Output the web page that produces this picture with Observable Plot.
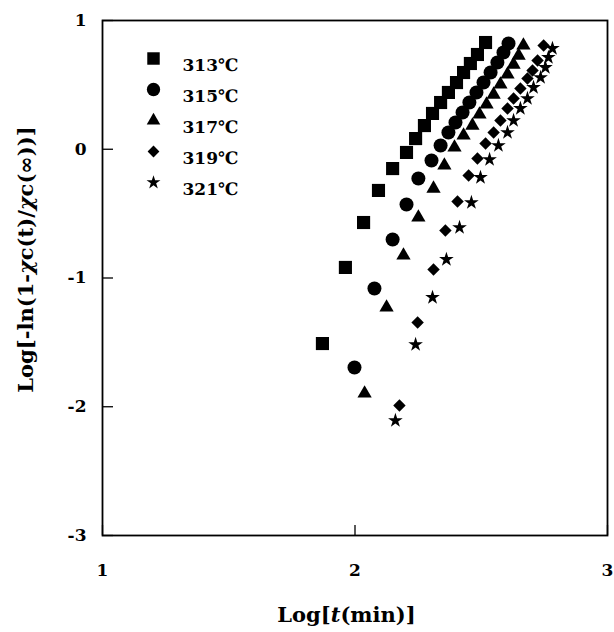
<!DOCTYPE html>
<html><head><meta charset="utf-8">
<script src="https://cdn.jsdelivr.net/npm/d3@7"></script>
<script src="https://cdn.jsdelivr.net/npm/@observablehq/plot@0.6"></script>
<style>body{margin:0;background:#fff}</style>
</head><body><div id="chart"></div>
<script>
// Series (temperature) names and their marker symbols
const seriesNames = ["313℃", "315℃", "317℃", "319℃", "321℃"];
const seriesSymbols = ["square", "circle", "triangle", "diamond2", "star"];
const seriesR = [7.4, 7, 5.3, 5.6, 4.6];

// Log[t(min)] values
const x313 = [1.871, 1.962, 2.034, 2.093, 2.149, 2.204, 2.240, 2.275, 2.307, 2.339, 2.370, 2.402, 2.430, 2.457, 2.485, 2.517];
const y313 = [-1.509, -0.918, -0.569, -0.320, -0.150, -0.025, 0.083, 0.184, 0.278, 0.363, 0.441, 0.518, 0.596, 0.666, 0.736, 0.829];

const x315 = [1.998, 2.077, 2.149, 2.204, 2.251, 2.303, 2.339, 2.370, 2.398, 2.426, 2.453, 2.481, 2.509, 2.537, 2.564, 2.588, 2.608];
const y315 = [-1.695, -1.082, -0.701, -0.429, -0.227, -0.087, 0.029, 0.130, 0.208, 0.285, 0.363, 0.441, 0.518, 0.596, 0.674, 0.751, 0.821];

const x317 = [2.038, 2.125, 2.192, 2.251, 2.311, 2.354, 2.394, 2.430, 2.465, 2.493, 2.521, 2.549, 2.576, 2.604, 2.628, 2.648, 2.667];
const y317 = [-1.897, -1.229, -0.825, -0.530, -0.305, -0.126, 0.014, 0.107, 0.184, 0.270, 0.348, 0.425, 0.503, 0.581, 0.658, 0.728, 0.806];

const x319 = [2.176, 2.248, 2.311, 2.358, 2.406, 2.450, 2.485, 2.517, 2.549, 2.576, 2.604, 2.628, 2.655, 2.683, 2.703, 2.723, 2.747];
const y319 = [-1.990, -1.346, -0.934, -0.631, -0.406, -0.204, -0.072, 0.045, 0.130, 0.223, 0.317, 0.394, 0.472, 0.550, 0.612, 0.689, 0.806];

const x321 = [2.160, 2.240, 2.307, 2.362, 2.414, 2.461, 2.497, 2.533, 2.568, 2.604, 2.628, 2.655, 2.683, 2.707, 2.735, 2.754, 2.766, 2.782];
const y321 = [-2.107, -1.517, -1.151, -0.856, -0.608, -0.414, -0.219, -0.080, 0.029, 0.130, 0.223, 0.317, 0.394, 0.480, 0.557, 0.635, 0.713, 0.783];

const xTicks = [1, 2, 3];
const yTicks = [-3, -2, -1, 0, 1];

const seriesX = [x313, x315, x317, x319, x321];
const seriesY = [y313, y315, y317, y319, y321];

const W = 614, H = 632, ML = 102, MR = 7, MT = 20, MB = 97;
const PW = W - ML - MR, PH = H - MT - MB;
const FONT = "DejaVu Serif";

const marks = [
  Plot.frame({stroke: "black", strokeWidth: 1.8}),
  Plot.tickY(yTicks, {y: d => d, insetRight: PW - 11, stroke: "black", strokeWidth: 1.3}),
  Plot.tickX(xTicks, {x: d => d, insetTop: PH - 10, stroke: "black", strokeWidth: 1.3}),
  Plot.axisY({ticks: yTicks, tickSize: 0, tickPadding: 16, label: null, fontSize: 17,
    tickFormat: d => (d < 0 ? "-" + Math.abs(d) : String(d))}),
  Plot.axisX({ticks: xTicks, tickSize: 0, tickPadding: 28, label: null, fontSize: 17,
    tickFormat: d => String(d)})
];

seriesNames.forEach((name, i) => {
  const rows = seriesX[i].map((x, j) => ({x, y: seriesY[i][j]}));
  marks.push(Plot.dot(rows, {x: "x", y: "y", symbol: seriesSymbols[i], r: seriesR[i], fill: "black", stroke: "none"}));
  // legend entry
  marks.push(Plot.dot([name], {frameAnchor: "top-left", dx: 51, dy: 38 + i * 31, symbol: seriesSymbols[i], r: seriesR[i] * 0.95, fill: "black", stroke: "none"}));
  marks.push(Plot.text([name], {frameAnchor: "top-left", dx: 80, dy: 38 + i * 31, text: d => d, textAnchor: "start", fontSize: 17, fill: "black"}));
});

const chart = Plot.plot({
  width: W, height: H,
  marginLeft: ML, marginRight: MR, marginTop: MT, marginBottom: MB,
  x: {domain: [1, 3]},
  y: {domain: [-3, 1]},
  style: {fontFamily: FONT, fontWeight: "bold", fontSize: "17px", background: "white", color: "black", overflow: "visible"},
  marks
});
document.getElementById("chart").appendChild(chart);

const svg = d3.select(chart);
// enlarge tick labels (single numbers) to the serif bold face at full size
svg.selectAll("text")
  .filter(function() { return /^-?\d$/.test(this.textContent.trim()); })
  .style("font-size", "17px").style("font-family", FONT).style("font-weight", "bold")
  .each(function() { d3.select(this.parentNode).attr("font-size", 17); });

const xt = svg.append("text")
  .attr("x", ML + PW / 2 - 8).attr("y", 622)
  .attr("text-anchor", "middle").attr("font-size", 21).attr("font-weight", "bold")
  .attr("font-family", FONT).attr("fill", "black");
xt.append("tspan").text("Log[");
xt.append("tspan").attr("font-style", "italic").text("t");
xt.append("tspan").text("(min)]");

const yt = svg.append("text")
  .attr("transform", `translate(33,${MT + PH / 2 - 18}) rotate(-90)`)
  .attr("text-anchor", "middle").attr("font-size", 21).attr("font-weight", "bold")
  .attr("font-family", FONT).attr("fill", "black");
yt.append("tspan").text("Log[-ln(1-");
yt.append("tspan").attr("font-style", "italic").text("χ");
yt.append("tspan").text("c(t)/");
yt.append("tspan").attr("font-style", "italic").text("χ");
yt.append("tspan").text("c(∞))]");
</script>
</body></html>
